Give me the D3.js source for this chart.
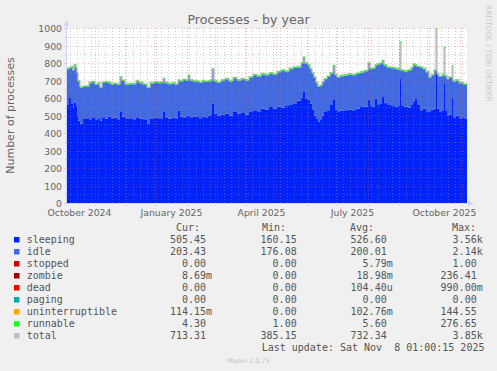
<!DOCTYPE html>
<html>
<head>
<meta charset="utf-8">
<script src="https://cdn.jsdelivr.net/npm/d3@7"></script>
<style>
body { margin: 0; background: #f0f0f0; }
svg { display: block; }
text { font-family: "DejaVu Sans", sans-serif; fill: #666; }
.mono { font-family: "DejaVu Sans Mono", monospace; font-size: 10px; fill: #555; white-space: pre; }
</style>
</head>
<body>
<svg id="graph" width="497" height="371"></svg>
<script>
// 400 day window ending at the last update
var startDate = new Date(2024, 9, 4, 1, 0, 15);
var endDate = new Date(2025, 10, 8, 1, 0, 15);

// day offsets from startDate, values hold until the next offset
var days = [0,2,4,6,7,9,10,11,13,16,
    19,22,25,28,31,33,35,38,41,44,
    47,50,53,55,58,62,66,69,72,76,
    80,83,87,91,96,98,101,105,108,111,
    113,116,119,121,123,126,129,132,135,138,
    141,144,145,147,150,154,158,162,166,170,
    174,178,182,186,190,194,198,202,206,210,
    214,218,222,226,230,234,236,238,241,243,
    245,247,249,251,253,255,257,260,263,266,
    268,270,273,277,281,285,289,293,297,301,
    303,305,308,310,313,315,317,320,324,328,
    331,333,334,337,341,344,346,348,350,353,
    356,359,362,364,367,369,370,372,375,377,
    378,380,382,385,386,389,392,395,397,400];

var sleeping = [560,600,570,545,575,555,500,470,455,480,
    485,475,490,478,485,470,490,483,495,480,
    488,478,520,495,480,485,475,490,482,478,
    452,480,488,485,520,490,482,488,480,528,
    495,490,492,500,490,495,492,485,495,490,
    498,505,569,510,500,505,512,500,520,510,
    515,505,520,530,525,540,535,548,540,552,
    545,555,560,570,585,600,635,598,590,569,
    532,500,480,465,478,500,520,530,560,588,
    535,520,528,530,535,530,540,548,550,588,
    555,552,597,560,570,606,575,560,555,550,
    555,713,555,550,545,560,580,597,560,530,
    540,525,520,535,540,777,540,520,530,684,
    530,500,505,600,490,500,485,490,480,470];

var idle = [205,170,205,210,210,215,240,225,205,183,
    180,210,200,197,198,188,197,207,190,197,
    192,197,197,203,197,194,203,205,203,197,
    205,203,200,200,187,195,197,195,197,170,
    200,213,205,225,210,200,201,202,200,201,
    197,195,194,185,187,195,195,195,193,190,
    192,195,197,200,198,195,195,192,193,195,
    210,195,205,203,190,195,194,197,195,196,
    208,215,205,198,192,190,187,190,180,194,
    195,197,197,198,198,200,197,197,203,207,
    210,215,188,230,225,204,210,213,215,215,
    208,202,200,202,210,210,210,188,217,243,
    225,222,195,195,215,213,195,200,200,201,
    195,207,210,180,205,200,200,193,195,201];

var runnable = [5,6,5,5,6,5,5,5,5,5,
    5,5,6,5,5,5,5,6,5,5,
    5,5,6,5,5,5,5,5,5,5,
    5,5,5,6,6,5,5,5,5,6,
    5,5,5,6,5,5,5,5,5,5,
    5,5,6,5,5,5,5,5,6,5,
    5,5,6,6,5,6,5,6,5,6,
    6,5,6,6,5,6,7,6,6,5,
    5,5,5,5,5,5,5,6,6,6,
    5,5,5,6,6,6,6,6,6,6,
    6,6,6,6,6,7,6,6,6,6,
    6,7,6,6,6,6,6,6,6,5,
    5,5,5,5,6,7,5,5,5,6,
    5,5,5,6,5,5,5,5,5,5];

var total = [770,775,780,760,790,775,745,700,665,668,
    670,690,695,680,688,663,692,695,690,682,
    685,680,722,703,682,684,683,700,690,680,
    662,688,693,690,712,690,684,688,682,703,
    700,708,702,730,705,700,698,692,700,696,
    700,705,768,700,692,705,712,700,718,705,
    712,705,722,735,728,740,735,745,738,752,
    760,755,770,778,780,800,834,800,790,770,
    745,720,690,668,675,695,712,725,745,787,
    735,722,730,733,738,735,742,750,758,800,
    770,772,790,795,800,815,790,778,775,770,
    768,920,760,757,760,775,795,790,782,778,
    770,752,720,735,760,995,740,725,735,890,
    730,712,720,785,700,705,690,688,680,676];

// the only days with uninterruptible processes worth drawing
var uninterruptibleDays = [375, 380];
var uninterruptibleVals = [6, 7];

var legendNames = ["sleeping","idle","stopped","zombie","dead","paging","uninterruptible","runnable","total"];
var legendColors = ["#0022ff","#4169e1","#cc0000","#990000","#ff0000","#00aaaa","#ffa500","#22ff22","#c0c0c0"];
var curVals = ["505.45","203.43","0.00","8.69m","0.00","0.00","114.15m","4.30","713.31"];
var minVals = ["160.15","176.08","0.00","0.00","0.00","0.00","0.00","1.00","385.15"];
var avgVals = ["526.60","200.01","5.79m","18.98m","104.40u","0.00","102.76m","5.60","732.34"];
var maxVals = ["3.56k","2.14k","1.00","236.41","990.00m","0.00","144.55","276.65","3.85k"];
var monthLabels = ["October 2024","January 2025","April 2025","July 2025","October 2025"];

var table = days.map(function(d, i) {
    var u = uninterruptibleDays.indexOf(d);
    return {
        date: d3.timeDay.offset(startDate, d),
        sleeping: sleeping[i],
        idle: idle[i],
        uninterruptible: u < 0 ? 0 : uninterruptibleVals[u],
        runnable: runnable[i],
        total: total[i]
    };
});

var x = d3.scaleTime().domain([startDate, endDate]).range([67, 467]);
var y = d3.scaleLinear().domain([0, 1000]).range([203, 28]);

var svg = d3.select("#graph");
svg.append("rect").attr("width", 497).attr("height", 371).attr("fill", "#f0f0f0");
svg.append("rect").attr("x", 67).attr("y", 28).attr("width", 400).attr("height", 175).attr("fill", "#ffffff");

// stacked areas
var colorOf = {sleeping: "#0022ff", idle: "#4169e1", uninterruptible: "#ffa500", runnable: "#22ff22"};
var layers = d3.stack().keys(["sleeping", "idle", "uninterruptible", "runnable"])(table);
var area = d3.area()
    .curve(d3.curveStepAfter)
    .x(function(d) { return x(d.data.date); })
    .y0(function(d) { return y(d[0]); })
    .y1(function(d) { return y(d[1]); });

var totalLine = d3.line()
    .curve(d3.curveStepAfter)
    .x(function(d) { return x(d.date); })
    .y(function(d) { return y(d.total); });

svg.append("g").selectAll("path")
    .data(layers.slice(0, 3))
    .enter().append("path")
    .attr("fill", function(d) { return colorOf[d.key]; })
    .attr("d", area);

svg.append("path")
    .datum(table)
    .attr("fill", "none")
    .attr("stroke", "#c0c0c0")
    .attr("stroke-width", 1.3)
    .attr("d", totalLine);

svg.append("path")
    .datum(layers[3])
    .attr("fill", colorOf.runnable)
    .attr("d", area);

// grid on top of the areas
var grid = svg.append("g").attr("stroke-width", 1).attr("stroke-dasharray", "1,2");
var px = function(v) { return Math.round(v) + 0.5; };
var minorColor = "rgba(143,143,143,0.4)";
var majorColor = "rgba(222,79,79,0.38)";

d3.range(50, 1001, 100).forEach(function(v) {
    grid.append("line").attr("x1", 65).attr("x2", 467).attr("y1", px(y(v))).attr("y2", px(y(v)))
        .attr("stroke", minorColor);
});
d3.timeMonday.range(startDate, endDate).forEach(function(d) {
    grid.append("line").attr("x1", px(x(d))).attr("x2", px(x(d))).attr("y1", 28).attr("y2", 205)
        .attr("stroke", minorColor);
});
d3.range(100, 1001, 100).forEach(function(v) {
    grid.append("line").attr("x1", 64).attr("x2", 467).attr("y1", px(y(v))).attr("y2", px(y(v)))
        .attr("stroke", majorColor);
});
d3.timeMonth.range(startDate, endDate).forEach(function(d) {
    grid.append("line").attr("x1", px(x(d))).attr("x2", px(x(d))).attr("y1", 28).attr("y2", 206)
        .attr("stroke", majorColor);
});

// axis lines and arrows
svg.append("line").attr("x1", 66.5).attr("x2", 66.5).attr("y1", 205).attr("y2", 24).attr("stroke", "#cfd6f8");
svg.append("line").attr("x1", 64).attr("x2", 470).attr("y1", 203.5).attr("y2", 203.5).attr("stroke", "#cfd6f8");
svg.append("path").attr("d", "M63.5,26L69.5,26L66.5,20Z").attr("fill", "#cfd6f8");
svg.append("path").attr("d", "M468,200.5L468,206.5L474,203.5Z").attr("fill", "#cfd6f8");

// tick labels
var yAxis = d3.axisLeft(y).tickValues(d3.range(0, 1001, 100)).tickFormat(d3.format("d"))
    .tickSize(0).tickPadding(5);
var yg = svg.append("g").attr("transform", "translate(67,0)").call(yAxis);
yg.select(".domain").remove();
yg.selectAll("text").attr("dy", "0.41em").style("font-size", "9.3px").style("font-family", "DejaVu Sans").attr("fill", "#666");

var labelDates = [new Date(2024, 9, 16), new Date(2025, 0, 16), new Date(2025, 3, 16), new Date(2025, 6, 16), new Date(2025, 9, 16)];
var xAxis = d3.axisBottom(x).tickValues(labelDates).tickSize(0)
    .tickFormat(function(d, i) { return monthLabels[i]; });
var xg = svg.append("g").attr("transform", "translate(0,203)").call(xAxis);
xg.select(".domain").remove();
xg.selectAll("text").attr("y", 13).attr("dy", 0).style("font-size", "9.3px").style("font-family", "DejaVu Sans").attr("fill", "#666");

// titles
svg.append("text").attr("x", 248.5).attr("y", 24).attr("text-anchor", "middle")
    .style("font-size", "12.6px").text("Processes - by year");
svg.append("text").attr("transform", "translate(14,115.5) rotate(-90)").attr("text-anchor", "middle")
    .style("font-size", "11px").text("Number of processes");
svg.append("text").attr("transform", "translate(486,5) rotate(90)")
    .style("font-size", "7.5px").style("fill", "#c8c8c8").text("RRDTOOL / TOBI OETIKER");
svg.append("text").attr("x", 248.5).attr("y", 363).attr("text-anchor", "middle")
    .style("font-size", "6.5px").style("fill", "#c0c0c0").text("Munin 2.0.73");

// legend
var legend = svg.append("g");
var headers = [["Cur:", 176], ["Min:", 262], ["Avg:", 350], ["Max:", 452]];
headers.forEach(function(h) {
    legend.append("text").attr("class", "mono").attr("x", h[1]).attr("y", 230.5).text(h[0]);
});

var columns = [[curVals, 206], [minVals, 296.7], [avgVals, 386.7], [maxVals, 476.7]];
legendNames.forEach(function(name, i) {
    var by = 242.5 + i * 12;
    legend.append("rect").attr("x", 14).attr("y", by - 5.5).attr("width", 5.5).attr("height", 5.5)
        .attr("fill", legendColors[i]);
    legend.append("text").attr("class", "mono").attr("x", 26.7).attr("y", by).text(name);
    columns.forEach(function(c) {
        var m = c[0][i].match(/^([0-9.]+)(\D?)$/);
        legend.append("text").attr("class", "mono").attr("x", c[1]).attr("y", by)
            .attr("text-anchor", "end").text(m[1]);
        if (m[2]) {
            legend.append("text").attr("class", "mono").attr("x", c[1]).attr("y", by).text(m[2]);
        }
    });
});
legend.append("text").attr("class", "mono").attr("x", 261.7).attr("y", 350.5)
    .text("Last update: Sat Nov  8 01:00:15 2025");
</script>
</body>
</html>
